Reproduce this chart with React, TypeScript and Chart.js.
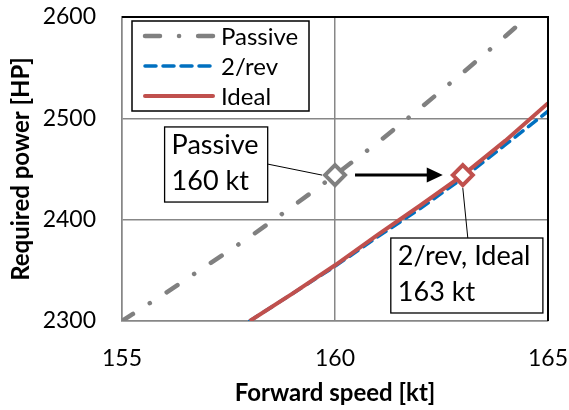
import React, { useEffect, useRef } from 'react';
import { Chart, registerables } from 'chart.js';

Chart.register(...registerables);

// ---- data ----
const passiveSpeed = [155, 156, 157, 158, 159, 160, 161, 162, 163, 164, 165];
const passivePower = [2300, 2327, 2355, 2383, 2413, 2444, 2476, 2510, 2545, 2581, 2618];
const controlSpeed = [158, 159, 160, 161, 162, 163, 164, 165];
const twoRevPower = [2300, 2327, 2354, 2383, 2411, 2441, 2474, 2507];
const idealPower = [2300, 2327, 2355, 2385, 2414, 2444, 2478, 2515];
const seriesLabels = ['Passive', '2/rev', 'Ideal'];
const passiveOptimum = [{ x: 160, y: 2444 }];
const controlOptimum = [{ x: 163, y: 2444 }];
const xTicks = [155, 160, 165];
const yTicks = [2300, 2400, 2500, 2600];
const xTitle = 'Forward speed [kt]';
const yTitle = 'Required power [HP]';
const passiveNote = ['Passive', '160 kt'];
const controlNote = ['2/rev, Ideal', '163 kt'];
// annotation boxes in data units: [xLeft, xRight, yTop, yBottom]
const passiveNoteBox = [156.0, 158.42, 2491.5, 2417.4];
const controlNoteBox = [161.31, 164.88, 2381.9, 2307.9];
const arrowSpan = [160.47, 162.53, 2444];

const FONT = 'Lato, "Open Sans", sans-serif';
const GRAY = '#808080';
const BLUE = '#0070C0';
const RED = '#C0504D';
const GRID = '#878787';

const overlay = {
  id: 'overlay',
  afterDraw(chart: any) {
    const { ctx, chartArea: a } = chart;
    const xs = chart.scales.x;
    const ys = chart.scales.y;
    ctx.save();
    // black top/right border of plot area
    ctx.strokeStyle = '#000';
    ctx.lineWidth = 2;
    ctx.beginPath();
    ctx.moveTo(a.left, a.top);
    ctx.lineTo(a.right, a.top);
    ctx.lineTo(a.right, a.bottom);
    ctx.stroke();

    // note boxes
    const drawBox = (box: number[], lines: string[]) => {
      const l = xs.getPixelForValue(box[0]);
      const r = xs.getPixelForValue(box[1]);
      const t = ys.getPixelForValue(box[2]);
      const b = ys.getPixelForValue(box[3]);
      ctx.fillStyle = '#fff';
      ctx.fillRect(l, t, r - l, b - t);
      ctx.strokeStyle = '#000';
      ctx.lineWidth = 1.3;
      ctx.strokeRect(l, t, r - l, b - t);
      ctx.fillStyle = '#000';
      ctx.font = `27px ${FONT}`;
      ctx.textAlign = 'left';
      ctx.textBaseline = 'alphabetic';
      lines.forEach((s, i) => ctx.fillText(s, l + 7, t + 27 + i * 36));
      return { l, r, t, b };
    };
    const pb = drawBox(passiveNoteBox, passiveNote);
    const cb = drawBox(controlNoteBox, controlNote);

    // leader lines
    ctx.strokeStyle = '#000';
    ctx.lineWidth = 1;
    const pmx = xs.getPixelForValue(passiveOptimum[0].x);
    const pmy = ys.getPixelForValue(passiveOptimum[0].y);
    ctx.beginPath();
    ctx.moveTo(pb.r, pmy - 11);
    ctx.lineTo(pmx - 13, pmy);
    ctx.stroke();
    const cmx = xs.getPixelForValue(controlOptimum[0].x);
    const cmy = ys.getPixelForValue(controlOptimum[0].y);
    ctx.beginPath();
    ctx.moveTo(cmx, cmy + 13);
    ctx.lineTo(cmx + 5, cb.t);
    ctx.stroke();

    // arrow
    const ax0 = xs.getPixelForValue(arrowSpan[0]);
    const ax1 = xs.getPixelForValue(arrowSpan[1]);
    const ay = ys.getPixelForValue(arrowSpan[2]);
    ctx.lineWidth = 3;
    ctx.beginPath();
    ctx.moveTo(ax0, ay);
    ctx.lineTo(ax1 - 12, ay);
    ctx.stroke();
    ctx.fillStyle = '#000';
    ctx.beginPath();
    ctx.moveTo(ax1, ay);
    ctx.lineTo(ax1 - 16, ay - 7.5);
    ctx.lineTo(ax1 - 16, ay + 7.5);
    ctx.closePath();
    ctx.fill();

    // legend
    const lx = a.left + 10;
    const ly = a.top + 4;
    ctx.fillStyle = '#fff';
    ctx.fillRect(lx, ly, 177, 90);
    ctx.strokeStyle = '#000';
    ctx.lineWidth = 1.5;
    ctx.strokeRect(lx, ly, 177, 90);
    const styles = [
      { color: GRAY, width: 4.5, dash: [15, 19, 0.1, 19] },
      { color: BLUE, width: 3.5, dash: [11, 7] },
      { color: RED, width: 4, dash: [] as number[] },
    ];
    seriesLabels.forEach((label, i) => {
      const y = ly + 15 + i * 30;
      const st = styles[i];
      ctx.strokeStyle = st.color;
      ctx.lineWidth = st.width;
      ctx.lineCap = 'round';
      ctx.setLineDash(st.dash);
      ctx.beginPath();
      ctx.moveTo(lx + 13, y);
      ctx.lineTo(lx + 81, y);
      ctx.stroke();
      ctx.setLineDash([]);
      ctx.fillStyle = '#000';
      ctx.font = `24px ${FONT}`;
      ctx.textAlign = 'left';
      ctx.textBaseline = 'middle';
      ctx.fillText(label, lx + 89, y + 1);
    });
    ctx.restore();
  },
};

export default function App() {
  const ref = useRef<HTMLCanvasElement | null>(null);
  useEffect(() => {
    document.body.style.margin = '0';
    const canvas = ref.current!;
    const chart = new Chart(canvas, {
      type: 'scatter',
      data: {
        datasets: [
          {
            label: seriesLabels[0],
            data: passiveSpeed.map((x, i) => ({ x, y: passivePower[i] })),
            showLine: true,
            borderColor: GRAY,
            borderWidth: 4.5,
            borderDash: [13, 20, 0.1, 20],
            borderCapStyle: 'round',
            pointRadius: 0,
            order: 4,
          },
          {
            label: seriesLabels[1],
            data: controlSpeed.map((x, i) => ({ x, y: twoRevPower[i] })),
            showLine: true,
            borderColor: BLUE,
            borderWidth: 3.5,
            borderDash: [10, 7],
            borderCapStyle: 'round',
            pointRadius: 0,
            order: 3,
          },
          {
            label: seriesLabels[2],
            data: controlSpeed.map((x, i) => ({ x, y: idealPower[i] })),
            showLine: true,
            borderColor: RED,
            borderWidth: 4,
            pointRadius: 0,
            order: 2,
          },
          {
            label: 'passive optimum',
            data: passiveOptimum,
            showLine: false,
            pointStyle: 'rectRot',
            pointRadius: 10,
            pointBorderWidth: 4,
            pointBorderColor: GRAY,
            pointBackgroundColor: '#fff',
            order: 1,
          },
          {
            label: 'control optimum',
            data: controlOptimum,
            showLine: false,
            pointStyle: 'rectRot',
            pointRadius: 10,
            pointBorderWidth: 4,
            pointBorderColor: RED,
            pointBackgroundColor: '#fff',
            order: 0,
          },
        ],
      },
      options: {
        animation: false,
        responsive: false,
        layout: { padding: { top: 17, right: 21, left: 0, bottom: 0 } },
        plugins: { legend: { display: false }, tooltip: { enabled: false } },
        scales: {
          x: {
            type: 'linear',
            min: xTicks[0],
            max: xTicks[xTicks.length - 1],
            afterBuildTicks: (s: any) => { s.ticks = xTicks.map((v) => ({ value: v })); },
            afterFit: (s: any) => { s.height = 89; s.paddingLeft = 0; s.paddingRight = 0; },
            grid: { color: GRID, lineWidth: 1.5, drawTicks: false },
            border: { color: GRID, width: 1.5 },
            ticks: {
              color: '#000',
              font: { family: FONT, size: 23 },
              padding: 24,
              maxRotation: 0,
              callback: (v: any) => String(v),
            },
            title: {
              display: true,
              text: xTitle,
              color: '#000',
              font: { family: FONT, size: 24, weight: 'bold' },
              padding: { top: 0, bottom: 2 },
            },
          },
          y: {
            type: 'linear',
            min: yTicks[0],
            max: yTicks[yTicks.length - 1],
            afterBuildTicks: (s: any) => { s.ticks = yTicks.map((v) => ({ value: v })); },
            afterFit: (s: any) => { s.width = 122; s.paddingTop = 0; s.paddingBottom = 0; },
            grid: { color: GRID, lineWidth: 1.5, drawTicks: false },
            border: { color: GRID, width: 1.5 },
            ticks: {
              color: '#000',
              font: { family: FONT, size: 23 },
              padding: 26,
              callback: (v: any) => String(v),
            },
            title: {
              display: true,
              text: yTitle,
              color: '#000',
              font: { family: FONT, size: 24, weight: 'bold' },
              padding: { top: 7, bottom: 0 },
            },
          },
        },
      },
      plugins: [overlay],
    });
    return () => chart.destroy();
  }, []);
  return (
    <div style={{ width: 569, height: 410 }}>
      <canvas ref={ref} width={569} height={410} style={{ display: 'block' }} />
    </div>
  );
}
